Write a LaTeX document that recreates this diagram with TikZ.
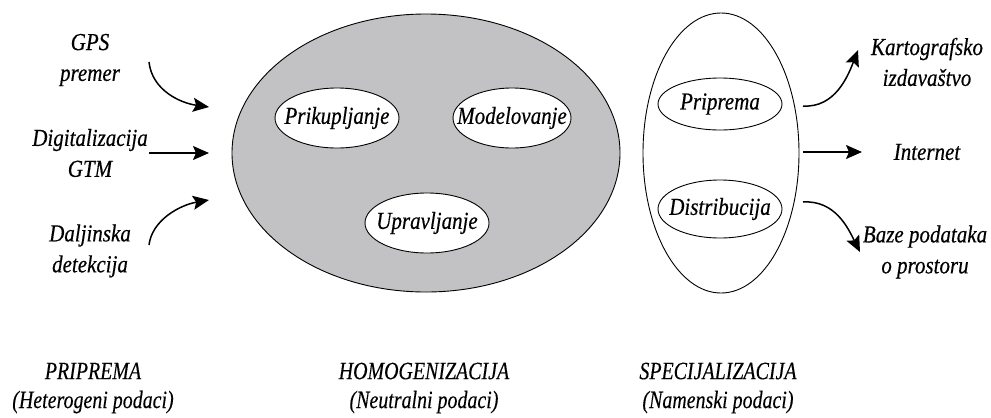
\documentclass[tikz,border=0pt]{standalone}
\usepackage{fontspec}
\setmainfont{Liberation Serif}[FakeStretch=0.86, ItalicFeatures={FakeBold=0.4}]
\newfontfamily\condfont{Liberation Serif}[FakeStretch=0.8, ItalicFeatures={FakeBold=0.2}]
\usetikzlibrary{shapes.geometric,arrows.meta}
\definecolor{ellgray}{RGB}{194,194,196}
\begin{document}
\begin{tikzpicture}[x=1bp,y=-1bp,
  txt/.style={font=\fontsize{24.5}{31}\selectfont\itshape, align=center, inner sep=0},
  bottxt/.style={font=\condfont\fontsize{25}{29}\selectfont\itshape, align=center, inner sep=0},
  oval/.style={draw, ellipse, inner sep=0, line width=0.9bp},
  inoval/.style={oval, fill=white, label={[txt]center:#1}},
  arr/.style={line width=1.5bp, -{Stealth[length=16bp,width=14bp,inset=3bp]}},
]
\path[use as bounding box] (0,0) rectangle (991,417);

% main ellipses
\node[oval, fill=ellgray, minimum width=388bp, minimum height=278bp] (homo) at (426,153) {};
\node[oval, minimum width=156bp, minimum height=280bp] (spec) at (721,153) {};

% inner ellipses
\node[inoval=Prikupljanje, minimum width=124bp, minimum height=60bp] (prik) at (337,118) {};
\node[inoval=Modelovanje, minimum width=118bp, minimum height=60bp] (model) at (512,118) {};
\node[inoval=Upravljanje, minimum width=124bp, minimum height=60bp] (uprav) at (427,223) {};
\node[inoval=Priprema, minimum width=124bp, minimum height=52bp] (prip) at (720,104) {};
\node[inoval=Distribucija, minimum width=124bp, minimum height=58bp] (distr) at (720,209) {};

% left texts
\node[txt] (gps) at (90,60) {GPS\\premer};
\node[txt] (digi) at (90,153) {Digitalizacija\\GTM};
\node[txt] (dalj) at (90,251) {Daljinska\\detekcija};

% right texts
\node[txt] (karto) at (927,62) {Kartografsko\\izdava\v{s}tvo};
\node[txt] (inter) at (927,152) {Internet};
\node[txt] (baze) at (925,252) {Baze podataka\\o prostoru};

% bottom texts
\node[bottxt] (b1) at (93,388) {PRIPREMA\\(Heterogeni podaci)};
\node[bottxt] (b2) at (424,388) {HOMOGENIZACIJA\\(Neutralni podaci)};
\node[bottxt] (b3) at (718,388) {SPECIJALIZACIJA\\(Namenski podaci)};

% connector ends
\coordinate (gpsS) at (149,62);
\coordinate (gpsE) at (209,107);
\coordinate (digiS) at (149,153);
\coordinate (digiE) at (209,153);
\coordinate (daljS) at (149,245);
\coordinate (daljE) at (209,200);
\coordinate (kartoS) at (803,106);
\coordinate (kartoE) at (858,50);
\coordinate (interS) at (803,152);
\coordinate (interE) at (862,152);
\coordinate (bazeS) at (803,202);
\coordinate (bazeE) at (860,252);

\draw[arr] (gpsS) .. controls (152,90) and (180,103) .. (gpsE);
\draw[arr] (digiS) -- (digiE);
\draw[arr] (daljS) .. controls (152,220) and (180,205) .. (daljE);
\draw[arr] (kartoS) .. controls (835,108) and (848,76) .. (kartoE);
\draw[arr] (interS) -- (interE);
\draw[arr] (bazeS) .. controls (835,200) and (848,228) .. (bazeE);
\end{tikzpicture}
\end{document}
